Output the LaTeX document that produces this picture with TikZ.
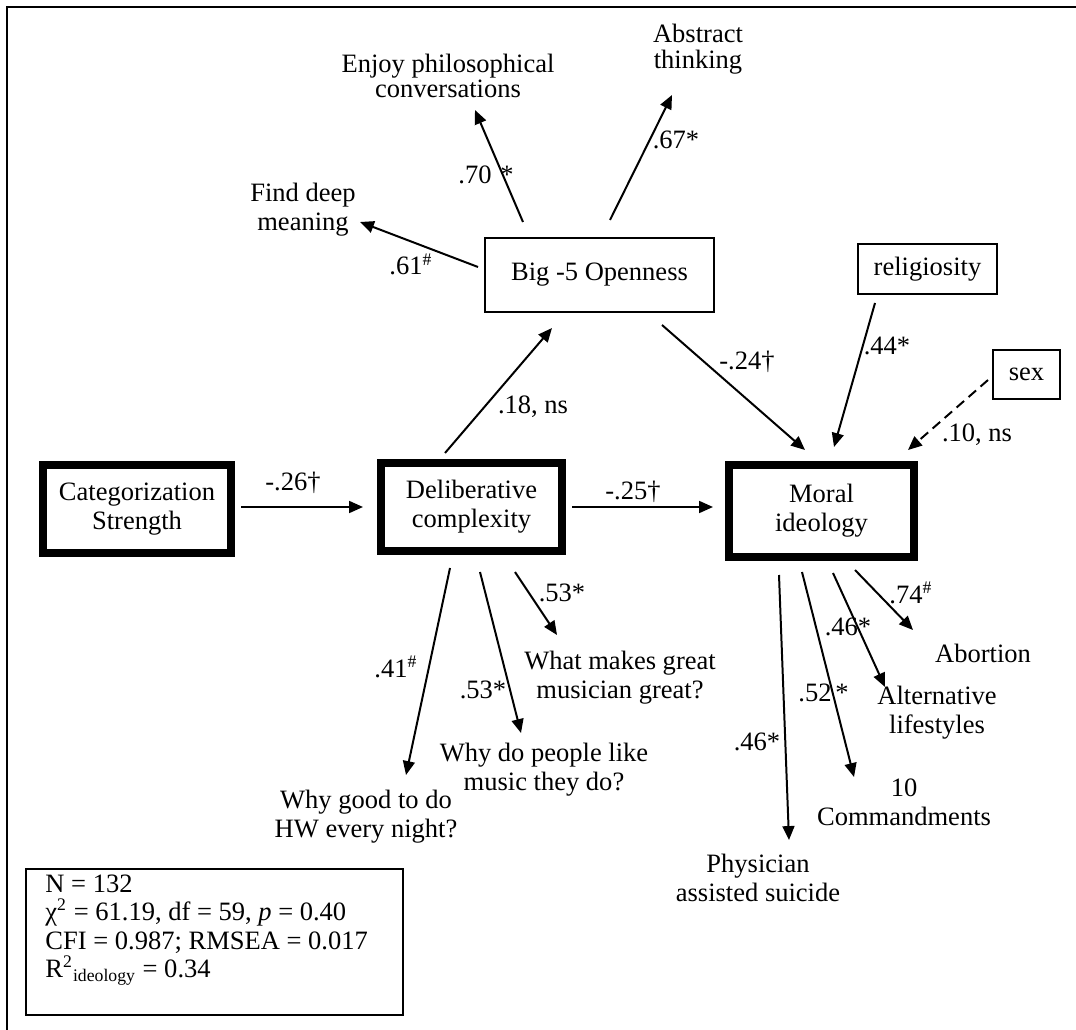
\documentclass[tikz,border=0pt]{standalone}
\usepackage{fontspec}
\setmainfont{Liberation Serif}
\usetikzlibrary{arrows.meta}
\begin{document}
\begin{tikzpicture}[x=0.4525pt,y=-0.4525pt,
  font=\fontsize{12}{13.2}\selectfont,
  heavybox/.style={draw, line width=3.6pt, inner sep=0pt, align=center},
  lightbox/.style={draw, line width=0.9pt, inner sep=0pt, align=center},
  txt/.style={inner sep=0pt, align=center},
  tighttxt/.style={txt, font=\fontsize{12}{11.5}\selectfont},
  coef/.style={inner sep=0pt},
  link/.style={line width=0.9pt, -{Triangle[length=6.3pt,width=5.4pt]}},
  weak/.style={link, dash pattern=on 4.5pt off 2.7pt}]

% canvas and the open frame (top and left rules)
\fill[white] (0,0) rectangle (1076,1030);
\useasboundingbox (0,0) rectangle (1076,1030);
\draw[line width=0.9pt] (7,1030) -- (7,7) -- (1076,7);

% latent constructs
\node[heavybox, minimum width=85.1pt, minimum height=39.8pt] (cat) at (137,509) {Categorization\\Strength};
\node[heavybox, minimum width=81.9pt, minimum height=39.8pt] (delib) at (471.5,507) {Deliberative\\complexity};
\node[heavybox, minimum width=83.7pt, minimum height=41.6pt] (moral) at (821.5,511) {Moral\\ideology};
\node[lightbox, minimum width=103.6pt, minimum height=33.5pt] (big5) at (599.5,275) {Big -5 Openness};
\node[lightbox, minimum width=62.9pt, minimum height=22.6pt] (relig) at (927.5,269) {religiosity};
\node[lightbox, minimum width=30.3pt, minimum height=22.2pt] (sex) at (1026.5,374.5) {sex};

% indicators
\node[tighttxt] (enjoy) at (448,76) {Enjoy philosophical\\conversations};
\node[tighttxt] (abstract) at (698,49) {Abstract\\thinking};
\node[txt] (deep) at (303,210) {Find deep\\meaning};
\node[txt] (great) at (620,678) {What makes great\\musician great?};
\node[txt] (likemusic) at (544,770) {Why do people like\\music they do?};
\node[txt] (homework) at (366,817) {Why good to do\\HW every night?};
\node[txt] (suicide) at (758,878) {Physician\\assisted suicide};
\node[txt] (command) at (904,802) {10\\Commandments};
\node[txt] (lifestyle) at (937,713) {Alternative\\lifestyles};
\node[txt] (abortion) at (983,653) {Abortion};

% connector end points
\coordinate (c1a) at (241,507);  \coordinate (c1b) at (363,507);
\coordinate (c2a) at (572,507);  \coordinate (c2b) at (713,507);
\coordinate (c3a) at (445,453);  \coordinate (c3b) at (552,328);
\coordinate (c4a) at (523,222);  \coordinate (c4b) at (475,110);
\coordinate (c5a) at (610,220);  \coordinate (c5b) at (672,95);
\coordinate (c6a) at (478,267);  \coordinate (c6b) at (360,222);
\coordinate (c7a) at (662,325);  \coordinate (c7b) at (805,450);
\coordinate (c8a) at (875,303);  \coordinate (c8b) at (834,447);
\coordinate (c9a) at (988,380);  \coordinate (c9b) at (908,450);
\coordinate (d1a) at (450,568);  \coordinate (d1b) at (406,775);
\coordinate (d2a) at (480,572);  \coordinate (d2b) at (521,733);
\coordinate (d3a) at (515,572);  \coordinate (d3b) at (557,635);
\coordinate (m1a) at (779,575);  \coordinate (m1b) at (789,840);
\coordinate (m2a) at (802,572);  \coordinate (m2b) at (854,777);
\coordinate (m3a) at (833,573);  \coordinate (m3b) at (885,687);
\coordinate (m4a) at (855,570);  \coordinate (m4b) at (913,630);

% structural paths
\draw[link] (c1a) -- (c1b);
\draw[link] (c2a) -- (c2b);
\draw[link] (c3a) -- (c3b);
\draw[link] (c7a) -- (c7b);
\draw[link] (c8a) -- (c8b);
\draw[weak] (c9a) -- (c9b);
% measurement paths
\draw[link] (c4a) -- (c4b);
\draw[link] (c5a) -- (c5b);
\draw[link] (c6a) -- (c6b);
\draw[link] (d1a) -- (d1b);
\draw[link] (d2a) -- (d2b);
\draw[link] (d3a) -- (d3b);
\draw[link] (m1a) -- (m1b);
\draw[link] (m2a) -- (m2b);
\draw[link] (m3a) -- (m3b);
\draw[link] (m4a) -- (m4b);

% coefficients
\node[coef] (k1) at (293,483) {-.26†};
\node[coef] (k2) at (633,492) {-.25†};
\node[coef] (k3) at (533,407) {.18, ns};
\node[coef] (k4) at (475,175) {.70};
\node[coef] (k4s) at (507,175) {*};
\node[coef] (k5) at (676,140) {.67*};
\node[coef, anchor=base west] (k6) at (389,275) {.61\textsuperscript{\#}};
\node[coef] (k7) at (747,362) {-.24†};
\node[coef] (k8) at (887,346) {.44*};
\node[coef] (k9) at (977,435) {.10, ns};
\node[coef, anchor=base west] (k10) at (374,677) {.41\textsuperscript{\#}};
\node[coef] (k11) at (483,690) {.53*};
\node[coef] (k12) at (562,593) {.53*};
\node[coef] (k13) at (757,742) {.46*};
\node[coef] (k14) at (815,693) {.52};
\node[coef] (k14s) at (842,693) {*};
\node[coef] (k15) at (848,627) {.46*};
\node[coef, anchor=base west] (k16) at (889,603) {.74\textsuperscript{\#}};

% fit statistics
\node[lightbox, minimum width=170.6pt, minimum height=66.1pt] (fit) at (214.5,942) {};
\node[txt, align=left, anchor=north west, font=\fontsize{12}{12.9}\selectfont] (fittext) at (45,874)
  {N = 132\\
   χ\textsuperscript{2} = 61.19, df = 59, \textit{p} = 0.40\\
   CFI = 0.987; RMSEA = 0.017\\
   R\textsuperscript{2}\textsubscript{ideology} = 0.34};
\end{tikzpicture}
\end{document}
